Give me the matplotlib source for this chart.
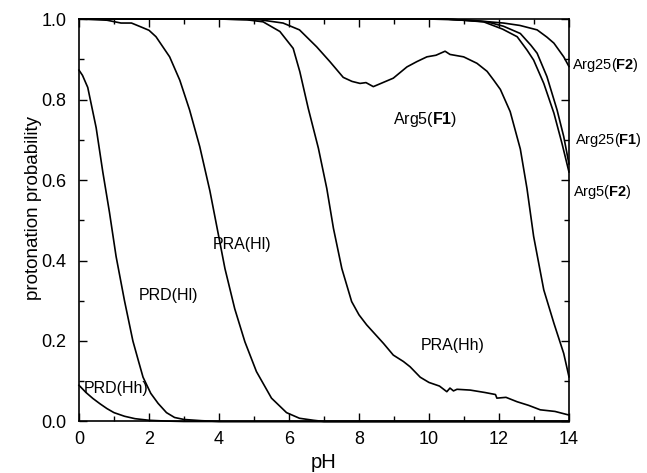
import matplotlib
matplotlib.use("Agg")
import matplotlib.pyplot as plt
from matplotlib.ticker import MultipleLocator

plt.rcParams['font.family'] = ['Liberation Sans', 'DejaVu Sans']
plt.rcParams['mathtext.fontset'] = 'custom'
plt.rcParams['mathtext.rm'] = 'Liberation Sans'
plt.rcParams['mathtext.bf'] = 'Liberation Sans:bold'

# ---- data ----
prd_hh_x = [0, 0.2, 0.4, 0.6, 0.8, 1.0, 1.3, 1.6, 2.0, 2.5, 3.0, 4, 14]
prd_hh_y = [0.09, 0.072, 0.057, 0.044, 0.032, 0.022, 0.013, 0.007, 0.003, 0.001, 0, 0, 0]

prd_hl_x = [0, 0.1, 0.25, 0.49, 0.68, 0.87, 1.06, 1.30, 1.54, 1.70, 1.83, 2.05, 2.26, 2.5, 2.73,
            3.0, 3.5, 4, 14]
prd_hl_y = [0.873, 0.86, 0.83, 0.73, 0.62, 0.52, 0.41, 0.30, 0.20, 0.15, 0.11, 0.07, 0.045, 0.022,
            0.01, 0.005, 0.002, 0, 0]

pra_hl_x = [0, 0.8, 1.2, 1.5, 1.78, 2.0, 2.2, 2.59, 2.88, 3.16, 3.45, 3.74, 3.97, 4.17, 4.45, 4.74,
            5.07, 5.5, 5.93, 6.3, 6.7, 7, 14]
pra_hl_y = [1.0, 0.997, 0.99, 0.99, 0.98, 0.972, 0.956, 0.906, 0.848, 0.774, 0.683, 0.573, 0.47,
            0.38, 0.28, 0.198, 0.124, 0.058, 0.022, 0.008, 0.003, 0, 0]

pra_hh_x = [0, 4, 4.8, 5.26, 5.74, 6.12, 6.31, 6.55, 6.84, 7.08, 7.27, 7.51, 7.79, 8.0, 8.22, 8.7,
            8.98, 9.27, 9.46, 9.75, 10.0, 10.3, 10.51, 10.6, 10.7, 10.8, 11.18, 11.6, 11.9, 11.94,
            12.2, 12.52, 12.85, 13.18, 13.6, 14]
pra_hh_y = [1, 1, 0.998, 0.993, 0.969, 0.927, 0.869, 0.778, 0.679, 0.579, 0.48, 0.38, 0.298, 0.265,
            0.24, 0.194, 0.165, 0.149, 0.136, 0.11, 0.097, 0.088, 0.074, 0.083, 0.076, 0.08, 0.078,
            0.072, 0.067, 0.058, 0.06, 0.049, 0.04, 0.029, 0.025, 0.016]

arg5_f1_x = [0, 4, 5.17, 5.83, 6.3, 6.79, 7.17, 7.55, 7.8, 8.03, 8.2, 8.41, 8.98, 9.37, 9.65, 9.94,
             10.2, 10.46, 10.6, 10.99, 11.37, 11.66, 11.85, 12.04, 12.32, 12.61, 12.8, 12.99, 13.28,
             13.57, 13.85, 14]
arg5_f1_y = [1, 1, 0.998, 0.99, 0.973, 0.931, 0.894, 0.855, 0.845, 0.84, 0.842, 0.832, 0.853, 0.881,
             0.894, 0.906, 0.91, 0.92, 0.912, 0.906, 0.89, 0.87, 0.848, 0.825, 0.77, 0.677, 0.579,
             0.46, 0.327, 0.244, 0.169, 0.111]

arg25_f2_x = [0, 10, 11.18, 12.13, 12.6, 13.09, 13.37, 13.57, 13.85, 14]
arg25_f2_y = [1, 1, 0.997, 0.99, 0.984, 0.973, 0.955, 0.94, 0.906, 0.882]

arg25_f1_x = [0, 10.5, 11.66, 12.13, 12.61, 12.91, 13.09, 13.37, 13.66, 13.85, 14]
arg25_f1_y = [1, 1, 0.993, 0.982, 0.964, 0.935, 0.915, 0.857, 0.774, 0.708, 0.64]

arg5_f2_x = [0, 10.5, 11.56, 12.1, 12.52, 12.8, 12.99, 13.28, 13.57, 13.8, 14]
arg5_f2_y = [1, 1, 0.993, 0.975, 0.956, 0.923, 0.898, 0.84, 0.766, 0.691, 0.62]

series = [
    (prd_hh_x, prd_hh_y), (prd_hl_x, prd_hl_y), (pra_hl_x, pra_hl_y), (pra_hh_x, pra_hh_y),
    (arg5_f1_x, arg5_f1_y), (arg25_f2_x, arg25_f2_y), (arg25_f1_x, arg25_f1_y),
    (arg5_f2_x, arg5_f2_y),
]

inner_labels = [
    ("PRD(Hh)", 1.07, 0.081),
    ("PRD(Hl)", 2.56, 0.314),
    ("PRA(Hl)", 4.65, 0.44),
    (r"Arg5($\mathbf{F1}$)", 9.89, 0.75),
    ("PRA(Hh)", 10.69, 0.19),
]
outer_labels = [
    (r"Arg25($\mathbf{F2}$)", 14.1, 0.885),
    (r"Arg25($\mathbf{F1}$)", 14.16, 0.70),
    (r"Arg5($\mathbf{F2}$)", 14.12, 0.57),
]

fig = plt.figure(figsize=(6.47, 4.73), dpi=100)
ax = fig.add_axes([0.1221, 0.1089, 0.7573, 0.8509])

for x, y in series:
    ax.plot(x, y, color='black', lw=1.2, clip_on=False, solid_joinstyle='round')

ax.set_xlim(0, 14)
ax.set_ylim(0, 1.0)
ax.xaxis.set_major_locator(MultipleLocator(2))
ax.xaxis.set_minor_locator(MultipleLocator(1))
ax.yaxis.set_major_locator(MultipleLocator(0.2))
ax.yaxis.set_minor_locator(MultipleLocator(0.1))
ax.yaxis.set_major_formatter(plt.FuncFormatter(lambda v, p: f"{v:.1f}"))
ax.tick_params(which='both', direction='in', top=True, right=True, width=1.0, labelsize=13)
ax.tick_params(which='major', length=6)
ax.tick_params(which='minor', length=3.5)
ax.tick_params(axis='x', which='major', pad=7)
ax.tick_params(axis='y', which='major', pad=9)
for s in ax.spines.values():
    s.set_linewidth(1.2)

ax.set_xlabel("pH", fontsize=14.5, va='center')
ax.xaxis.set_label_coords(0.5, -0.103)
ax.set_ylabel("protonation probability", fontsize=13.5, va='center')
ax.yaxis.set_label_coords(-0.093, 0.53)

for t, x, y in inner_labels:
    ax.text(x, y, t, fontsize=11.5, ha='center', va='center')
for t, x, y in outer_labels:
    ax.text(x, y, t, fontsize=10.5, ha='left', va='center', clip_on=False)

fig.savefig("out.png", dpi=100)
